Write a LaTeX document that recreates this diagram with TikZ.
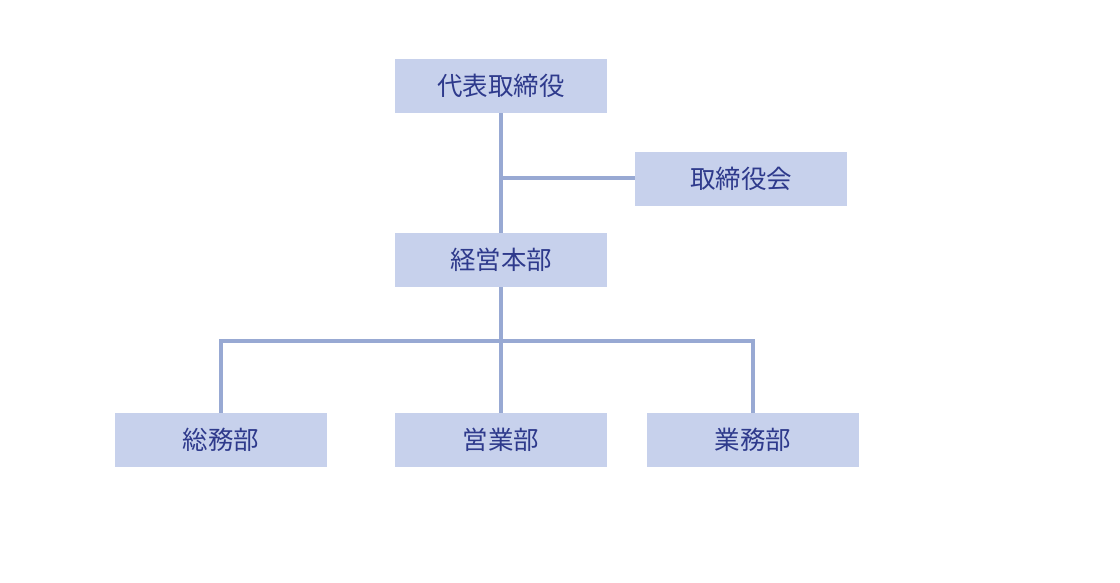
\documentclass[tikz,border=0pt]{standalone}
\usepackage{fontspec}
\newfontfamily\cjk{Noto Sans CJK JP}
\usetikzlibrary{positioning}
\definecolor{boxfill}{HTML}{C7D1EC}
\definecolor{boxtext}{HTML}{2E3A8C}
\definecolor{linkcol}{HTML}{98A9D3}

\begin{document}
\begin{tikzpicture}[x=0.02cm,y=-0.02cm,
	org/.style={fill=boxfill,text=boxtext,minimum width=4.24cm,minimum height=1.08cm,
		inner sep=0pt,font=\cjk\fontsize{14.5}{16}\selectfont},
	link/.style={draw=linkcol,line width=2.2pt}]
	\useasboundingbox (0,0) rectangle (1120,582);
	\node [org] (ceo) at (501,86) {代表取締役};
	\node [org] (board) at (741,179) {取締役会};
	\node [org] (hq) at (501,260) {経営本部};
	\node [org] (soumu) at (221,440) {総務部};
	\node [org] (eigyo) at (501,440) {営業部};
	\node [org] (gyomu) at (753,440) {業務部};
	\coordinate (j1) at (501,178);
	\coordinate (j2) at (501,341);
	\draw [link] (ceo) -- (hq);
	\draw [link] (j1) -- (board.west |- j1);
	\draw [link] (hq) -- (eigyo);
	\draw [link] (soumu) -- (soumu |- j2) -- (gyomu |- j2) -- (gyomu);
\end{tikzpicture}
\end{document}
